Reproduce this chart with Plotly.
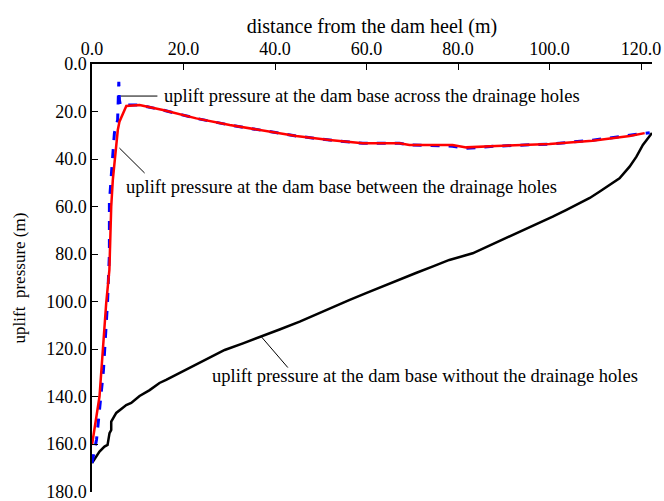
import plotly.graph_objects as go

# without drainage holes (black)
x_none = [0.0, 0.17, 0.9, 1.64, 2.73, 3.4, 3.83, 4.2, 4.2, 4.92, 5.3, 6.67, 7.48, 8.57, 10.4, 12.6,
          14.75, 16.2, 19.5, 22.4, 25.7, 29.0, 33.0, 37.0, 41.0, 45.4, 49.0, 52.6, 56.2, 59.9, 63.5,
          67.2, 70.8, 74.4, 78.1, 83.2, 86.8, 90.5, 94.1, 97.8, 100.7, 103.6, 106.6, 108.8, 110.9,
          113.1, 115.3, 117.5, 119.0, 120.4, 121.6, 122.4]
y_none = [168.0, 167.5, 165.3, 163.2, 161.1, 160.4, 155.4, 154.1, 150.6, 147.8, 146.9, 144.8, 143.6,
          142.7, 139.8, 137.3, 134.3, 133.0, 129.8, 126.7, 123.8, 120.4, 117.6, 114.8, 111.8, 108.5,
          105.4, 102.2, 99.4, 96.5, 93.6, 90.9, 88.0, 85.3, 82.5, 79.7, 76.6, 73.4, 70.3, 67.1, 64.3,
          61.5, 58.7, 56.4, 53.8, 51.0, 48.1, 43.2, 39.0, 34.1, 31.0, 29.0]

# between drainage holes (red)
x_between = [0.0, 1.64, 3.1, 3.8, 4.2, 4.55, 5.64, 6.0, 7.5, 9.3, 10.4, 15.5, 22.8, 30.1, 36.6, 44.6,
             51.9, 59.2, 67.2, 69.4, 78.8, 81.8, 88.3, 100.0, 109.4, 117.5, 120.8]
y_between = [160.4, 140.0, 100.8, 86.7, 60.1, 48.8, 27.8, 24.3, 17.7, 17.3, 17.3, 19.4, 22.9, 25.7,
             27.8, 30.3, 32.0, 33.4, 33.4, 34.1, 34.1, 35.1, 34.5, 33.7, 32.3, 30.3, 29.1]

# across drainage holes (blue dashed)
x_across = [0.0, 1.0, 2.5, 3.4, 3.8, 3.8, 4.2, 4.55, 4.9, 5.6, 5.7, 5.86, 6.0, 6.2, 9.3, 10.4, 15.5,
            22.8, 30.1, 36.6, 44.6, 51.9, 59.2, 67.2, 69.4, 78.8, 81.8, 88.3, 100.0, 109.4, 117.5,
            121.9]
y_across = [168.0, 158.0, 129.0, 100.0, 80.0, 58.5, 47.4, 36.6, 29.0, 23.6, 12.0, 7.5, 15.2, 17.3,
            17.3, 17.3, 19.4, 22.9, 25.7, 27.8, 30.3, 32.0, 33.4, 33.4, 34.1, 34.6, 35.5, 34.6, 33.7,
            32.1, 30.0, 28.9]

x_ticks = [0, 20, 40, 60, 80, 100, 120]
y_ticks = [0, 20, 40, 60, 80, 100, 120, 140, 160, 180]

label_across = "uplift pressure at the dam base across the drainage holes"
label_between = "uplift pressure at the dam base between the drainage holes"
label_none = "uplift pressure at the dam base without the drainage holes"

FONT = "Liberation Serif"
ANN = 18.5

fig = go.Figure()
fig.add_trace(go.Scatter(x=x_none, y=y_none, mode="lines",
                         line=dict(color="black", width=2.5), showlegend=False))
fig.add_trace(go.Scatter(x=x_across, y=y_across, mode="lines",
                         line=dict(color="#0000ff", width=3, dash="dash"), showlegend=False))
fig.add_trace(go.Scatter(x=x_between, y=y_between, mode="lines",
                         line=dict(color="#ff0000", width=2.5), showlegend=False))

# leader lines
fig.add_shape(type="line", x0=6.3, y0=13.5, x1=14.3, y1=13.5, line=dict(color="black", width=1))
fig.add_shape(type="line", x0=6.0, y0=35.4, x1=11.5, y1=45.9, line=dict(color="black", width=1))
fig.add_shape(type="line", x0=37.0, y0=114.8, x1=42.8, y1=127.8, line=dict(color="black", width=1))

fig.add_annotation(x=15.4, y=13.5, text=label_across, showarrow=False, xanchor="left",
                   yanchor="middle", font=dict(family=FONT, size=ANN, color="black"))
fig.add_annotation(x=7.1, y=51.8, text=label_between, showarrow=False, xanchor="left",
                   yanchor="middle", font=dict(family=FONT, size=ANN, color="black"))
fig.add_annotation(x=25.7, y=131.4, text=label_none, showarrow=False, xanchor="left",
                   yanchor="middle", font=dict(family=FONT, size=ANN, color="black"))

fig.update_layout(
    width=664, height=501,
    margin=dict(l=92, r=12, t=64, b=9),
    paper_bgcolor="white", plot_bgcolor="white",
    font=dict(family=FONT, size=18, color="black"),
    xaxis=dict(side="top", range=[0, 122.4], tickvals=x_ticks,
               ticktext=[f"{v:.1f}" for v in x_ticks], automargin=False,
               ticks="inside", ticklen=6, tickcolor="black", tickwidth=1,
               showline=True, linecolor="black", linewidth=1.5, showgrid=False, zeroline=False,
               title=dict(text="distance from the dam heel (m)", standoff=0,
                          font=dict(family=FONT, size=20)),
               tickfont=dict(family=FONT, size=18)),
    yaxis=dict(range=[180.2, 0], tickvals=y_ticks,
               ticktext=[f"{v:.1f}" for v in y_ticks], automargin=False,
               ticks="inside", ticklen=6, tickcolor="black", tickwidth=1,
               ticklabeloverflow="allow",
               showline=True, linecolor="black", linewidth=1.5, showgrid=False, zeroline=False,
               title=dict(text="uplift  pressure (m)", standoff=16,
                          font=dict(family=FONT, size=17)),
               tickfont=dict(family=FONT, size=18)),
)

fig.write_html("out.html")
